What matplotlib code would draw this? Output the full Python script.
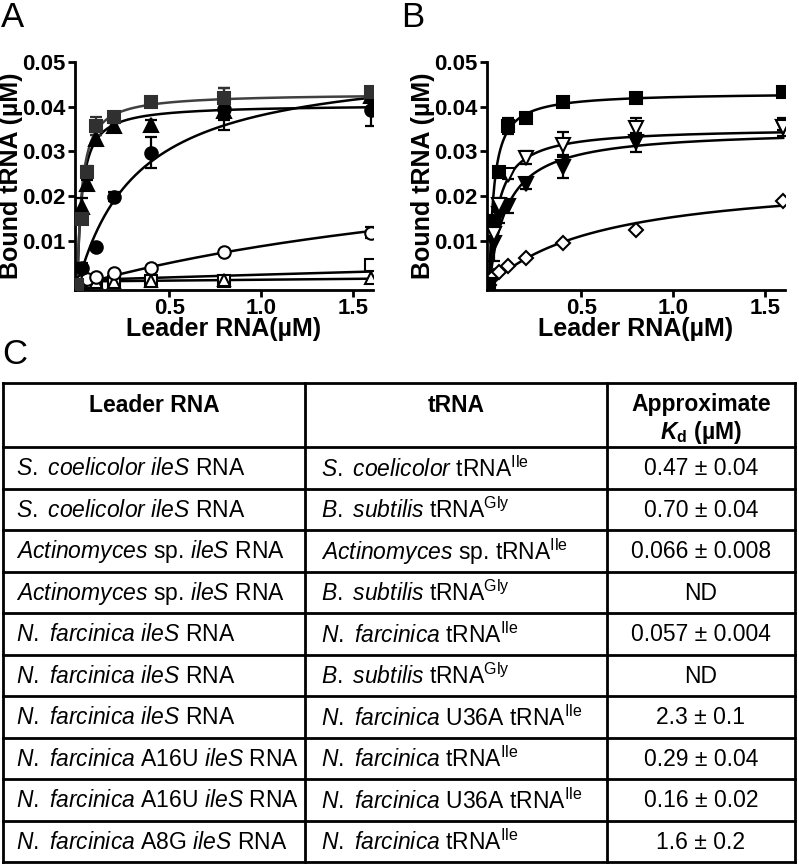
import numpy as np
import matplotlib
matplotlib.use("Agg")
import matplotlib.pyplot as plt

plt.rcParams['font.family'] = ['Liberation Sans', 'DejaVu Sans']
plt.rcParams['mathtext.fontset'] = 'custom'
plt.rcParams['mathtext.rm'] = 'Liberation Sans'
plt.rcParams['mathtext.it'] = 'Liberation Sans:italic'
plt.rcParams['mathtext.bf'] = 'Liberation Sans:bold'
plt.rcParams['mathtext.bfit'] = 'Liberation Sans:italic:bold'

# leader RNA concentrations (uM)
conc = [0, 0.025, 0.05, 0.1, 0.2, 0.4, 0.8, 1.6]
nan = np.nan

# ---- panel A: bound tRNA (uM) ----
a_sq = [0, 0.0148, 0.0255, 0.0356, 0.0378, 0.0410, 0.0420, 0.0432]
a_sq_err = [0, 0.001, 0.0012, 0.002, 0.001, 0.0005, 0.0022, 0.0006]
a_tri = [0, 0.0175, 0.0226, 0.0327, 0.0356, 0.0360, 0.0390, 0.0425]
a_tri_err = [0, 0.002, 0.001, 0.001, 0.0008, 0.001, 0.002, 0.0005]
a_circ = [0, 0.0040, nan, 0.0087, 0.0199, 0.0297, 0.0395, 0.0393]
a_circ_err = [0, 0.001, 0, 0.0005, 0.001, 0.0035, 0.0048, 0.0037]
a_ocirc = [0, 0.0010, 0.0015, 0.0020, 0.0029, 0.0040, 0.0074, 0.0118]
a_ocirc_err = [0, 0, 0, 0, 0, 0, 0, 0.0012]
a_osq = [0, 0.0005, 0.0007, 0.0007, 0.0008, 0.0010, 0.0010, 0.0045]
a_otri = [0, 0.0006, 0.0008, 0.0008, 0.0008, 0.0009, 0.0012, 0.0016]

# fit parameters: (baseline, Bmax, Kd)
a_fits = {
    "sq": (0, 0.043, 0.025),
    "tri": (0, 0.0405, 0.025),
    "circ": (0, 0.0508, 0.334),
    "ocirc": (0, 0.0346, 2.94),
    "osq": (0.0012, 0.05, 40.0),
    "otri": (0.0009, 0.02, 50.0),
}

# ---- panel B ----
b_sq = [0, 0.0145, 0.0253, 0.0356, 0.0374, 0.0410, 0.0420, 0.0432]
b_sq_err = [0, 0.001, 0.001, 0.0018, 0.0006, 0.0005, 0.0005, 0.0005]
b_otri = [0, 0.0115, 0.0180, 0.0248, 0.0286, 0.0315, 0.0353, 0.0355]
b_otri_err = [0, 0.001, 0.0015, 0.001, 0.0015, 0.0028, 0.0022, 0.002]
b_tri = [0, 0.0095, 0.0160, 0.0177, 0.0226, 0.0266, 0.0320, 0.0355]
b_tri_err = [0, 0.004, 0.002, 0.0015, 0.001, 0.0025, 0.0022, 0.0008]
b_dia = [0, 0.0022, 0.0030, 0.0043, 0.0062, 0.0096, 0.0125, 0.0188]

b_fits = {
    "sq": (0, 0.0432, 0.025),
    "otri": (0, 0.0353, 0.048),
    "tri": (0, 0.035, 0.096),
    "dia": (0, 0.0248, 0.62),
}

yticks = [0.01, 0.02, 0.03, 0.04, 0.05]
xticks = [0.5, 1.0, 1.5]

# ---- panel C table ----
col_headers = ["Leader RNA", "tRNA"]
leader_rna = [
    r"$\mathit{S.}$ $\mathit{coelicolor}$ $\mathit{ileS}$ RNA",
    r"$\mathit{S.}$ $\mathit{coelicolor}$ $\mathit{ileS}$ RNA",
    r"$\mathit{Actinomyces}$ sp. $\mathit{ileS}$ RNA",
    r"$\mathit{Actinomyces}$ sp. $\mathit{ileS}$ RNA",
    r"$\mathit{N.}$ $\mathit{farcinica}$ $\mathit{ileS}$ RNA",
    r"$\mathit{N.}$ $\mathit{farcinica}$ $\mathit{ileS}$ RNA",
    r"$\mathit{N.}$ $\mathit{farcinica}$ $\mathit{ileS}$ RNA",
    r"$\mathit{N.}$ $\mathit{farcinica}$ A16U $\mathit{ileS}$ RNA",
    r"$\mathit{N.}$ $\mathit{farcinica}$ A16U $\mathit{ileS}$ RNA",
    r"$\mathit{N.}$ $\mathit{farcinica}$ A8G $\mathit{ileS}$ RNA",
]
trna = [
    r"$\mathit{S.}$ $\mathit{coelicolor}$ tRNA$^{\mathrm{Ile}}$",
    r"$\mathit{B.}$ $\mathit{subtilis}$ tRNA$^{\mathrm{Gly}}$",
    r"$\mathit{Actinomyces}$ sp. tRNA$^{\mathrm{Ile}}$",
    r"$\mathit{B.}$ $\mathit{subtilis}$ tRNA$^{\mathrm{Gly}}$",
    r"$\mathit{N.}$ $\mathit{farcinica}$ tRNA$^{\mathrm{Ile}}$",
    r"$\mathit{B.}$ $\mathit{subtilis}$ tRNA$^{\mathrm{Gly}}$",
    r"$\mathit{N.}$ $\mathit{farcinica}$ U36A tRNA$^{\mathrm{Ile}}$",
    r"$\mathit{N.}$ $\mathit{farcinica}$ tRNA$^{\mathrm{Ile}}$",
    r"$\mathit{N.}$ $\mathit{farcinica}$ U36A tRNA$^{\mathrm{Ile}}$",
    r"$\mathit{N.}$ $\mathit{farcinica}$ tRNA$^{\mathrm{Ile}}$",
]
kd = ["0.47 ± 0.04", "0.70 ± 0.04", "0.066 ± 0.008", "ND", "0.057 ± 0.004",
      "ND", "2.3 ± 0.1", "0.29 ± 0.04", "0.16 ± 0.02", "1.6 ± 0.2"]


def binding(x, p):
    b0, bmax, k = p
    return b0 + bmax * x / (k + x)


def style_axes(ax):
    for s in ["top", "right"]:
        ax.spines[s].set_visible(False)
    for s in ["left", "bottom"]:
        ax.spines[s].set_linewidth(2.0)
    ax.set_xlim(-0.013, 1.61)
    ax.set_ylim(-0.001, 0.05)
    ax.set_xticks(xticks)
    ax.set_xticklabels(["0.5", "1.0", "1.5"])
    ax.set_yticks(yticks)
    ax.set_yticklabels(["0.01", "0.02", "0.03", "0.04", "0.05"])
    ax.tick_params(length=5, width=2, labelsize=16, pad=1.5)
    ax.tick_params(axis="x", pad=0.5)
    for lab in ax.get_xticklabels() + ax.get_yticklabels():
        lab.set_fontweight("bold")
    ax.set_xlabel("Leader RNA(µM)", fontsize=18, fontweight="bold", labelpad=-1)
    ax.set_ylabel("Bound tRNA (µM)", fontsize=18, fontweight="bold", labelpad=0)


def series(ax, y, marker, face, err=None, color="black", ms=8.5):
    if err is not None:
        ax.errorbar(conc, y, yerr=err, fmt="none", ecolor=color, elinewidth=1.6,
                    capsize=4.5, capthick=1.6, zorder=3)
    ax.plot(conc, y, linestyle="none", marker=marker, markersize=ms,
            markerfacecolor=face, markeredgecolor=color, markeredgewidth=1.5,
            zorder=4)


xx = np.linspace(0, 1.6, 400)
fig = plt.figure(figsize=(7.99, 8.64), dpi=100)

# panel A
axA = fig.add_axes([0.0939, 0.6644, 0.3729, 0.2638])
style_axes(axA)
for key, col in [("osq", "black"), ("otri", "black"), ("ocirc", "black"),
                 ("circ", "black"), ("tri", "black"), ("sq", "#404040")]:
    axA.plot(xx, binding(xx, a_fits[key]), color=col, lw=1.8, zorder=2)
series(axA, a_osq, "s", "white")
series(axA, a_otri, "^", "white", ms=9)
series(axA, a_ocirc, "o", "white", a_ocirc_err, ms=9)
series(axA, a_circ, "o", "black", a_circ_err, ms=9)
series(axA, a_tri, "^", "black", a_tri_err, ms=9.5)
series(axA, a_sq, "s", "#303030", a_sq_err, color="#303030")

# panel B
axB = fig.add_axes([0.6095, 0.6644, 0.373, 0.2638])
style_axes(axB)
for key in ["dia", "tri", "otri", "sq"]:
    axB.plot(xx, binding(xx, b_fits[key]), color="black", lw=1.8, zorder=2)
series(axB, b_dia, "D", "white", ms=7)
series(axB, b_tri, "v", "black", b_tri_err, ms=10)
series(axB, b_otri, "v", "white", b_otri_err, ms=10)
series(axB, b_sq, "s", "black", b_sq_err, ms=9)

# panel C: table drawn in pixel coordinates
tab = fig.add_axes([0, 0, 1, 1], zorder=-1)
tab.set_xlim(0, 799)
tab.set_ylim(864, 0)
tab.axis("off")

col_x = [3, 305, 607, 795]
top, head_bot, row_h = 383, 447, 41.5
n = len(leader_rna)
bottom = head_bot + n * row_h
line_ys = [top, head_bot] + [head_bot + row_h * (i + 1) for i in range(n)]
for y in line_ys:
    tab.plot([col_x[0], col_x[-1]], [y, y], color="black", lw=2.0,
             solid_capstyle="projecting")
for x in col_x:
    tab.plot([x, x], [top, bottom], color="black", lw=2.0,
             solid_capstyle="projecting")

fs = 16.5
tab.text((col_x[0] + col_x[1]) / 2, 405, col_headers[0], ha="center",
         va="center", fontsize=fs, fontweight="bold")
tab.text((col_x[1] + col_x[2]) / 2, 405, col_headers[1], ha="center",
         va="center", fontsize=fs, fontweight="bold")
tab.text((col_x[2] + col_x[3]) / 2, 404, "Approximate", ha="center",
         va="center", fontsize=fs, fontweight="bold")
tab.text((col_x[2] + col_x[3]) / 2, 433, r"$\mathbfit{K}_{\mathbf{d}}$ (µM)",
         ha="center", va="center", fontsize=fs, fontweight="bold")

for i in range(n):
    yc = head_bot + row_h * (i + 0.5) + 1
    tab.text(col_x[0] + 13, yc, leader_rna[i], ha="left", va="center", fontsize=fs)
    tab.text(col_x[1] + 16, yc, trna[i], ha="left", va="center", fontsize=fs)
    tab.text((col_x[2] + col_x[3]) / 2, yc, kd[i], ha="center", va="center",
             fontsize=fs)

# panel letters
tab.text(1, 27, "A", fontsize=25, ha="left", va="baseline")
tab.text(401, 27, "B", fontsize=25, ha="left", va="baseline")
tab.text(2, 364, "C", fontsize=25, ha="left", va="baseline")

fig.savefig("out.png", dpi=100)
